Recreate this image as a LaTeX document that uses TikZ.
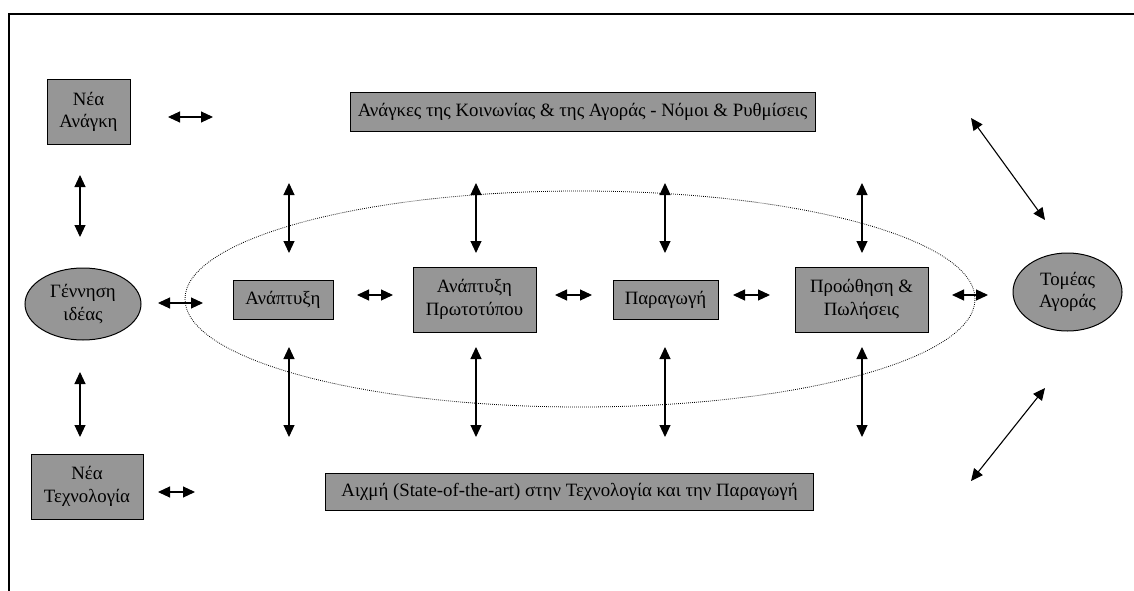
\documentclass[tikz,border=0pt]{standalone}
\usepackage{fontspec}
\setmainfont{Liberation Serif}
\usetikzlibrary{arrows.meta,shapes.geometric}
\definecolor{boxgray}{RGB}{150,150,150}
\begin{document}
\begin{tikzpicture}[x=1pt,y=-1pt,
  box/.style={draw=black, fill=boxgray, line width=1pt, inner sep=0pt,
    font=\fontsize{18.8}{22.5}\selectfont, align=center},
  oval/.style={ellipse, draw=black, fill=boxgray, line width=1pt, inner sep=0pt,
    font=\fontsize{18.8}{22.5}\selectfont, align=center},
  dar/.style={{Triangle[length=12pt,width=11pt]}-{Triangle[length=12pt,width=11pt]}, line width=1.1pt},
  area/.style={ellipse, draw=black, dash pattern=on 0.8pt off 1.2pt, line width=0.8pt, inner sep=0pt}
]
\useasboundingbox (0,0) rectangle (1134,591);
\draw[line width=2pt] (9,591) -- (9,14) -- (1134,14);

\node[area, minimum width=790pt, minimum height=216pt] (zone) at (580,299) {};

\node[box, minimum width=83pt, minimum height=64pt] (need) at (88.5,112) {Νέα\\Ανάγκη};
\node[box, minimum width=465pt, minimum height=39pt] (soc) at (582.5,112) {Ανάγκες της Κοινωνίας \& της Αγοράς - Νόμοι \& Ρυθμίσεις};
\node[oval, minimum width=116pt, minimum height=72pt] (idea) at (83,304) {Γέννηση\\ιδέας};
\node[box, minimum width=100pt, minimum height=39pt] (dev) at (283,299.5) {Ανάπτυξη};
\node[box, minimum width=123pt, minimum height=65pt] (proto) at (474.5,299.5) {Ανάπτυξη\\Πρωτοτύπου};
\node[box, minimum width=105pt, minimum height=39pt] (prod) at (665.5,299.5) {Παραγωγή};
\node[box, minimum width=133pt, minimum height=65pt] (sales) at (861.5,299.5) {Προώθηση \&\\Πωλήσεις};
\node[oval, minimum width=109pt, minimum height=78pt] (market) at (1067.5,292) {Τομέας\\Αγοράς};
\node[box, minimum width=112pt, minimum height=65pt] (tech) at (87,486.5) {Νέα\\Τεχνολογία};
\node[box, minimum width=488pt, minimum height=37pt] (art) at (569.5,492) {Αιχμή (State-of-the-art) στην Τεχνολογία και την Παραγωγή};

% arrow end points
\coordinate (h1a) at (168,117); \coordinate (h1b) at (213,117);
\coordinate (v1a) at (80,175);  \coordinate (v1b) at (80,237);
\coordinate (v2a) at (80,372);  \coordinate (v2b) at (80,437);
\coordinate (h2a) at (158,303); \coordinate (h2b) at (203,303);
\coordinate (h3a) at (357,295); \coordinate (h3b) at (393,295);
\coordinate (h4a) at (555,295); \coordinate (h4b) at (592,295);
\coordinate (h5a) at (733,295); \coordinate (h5b) at (770,295);
\coordinate (h6a) at (952,295); \coordinate (h6b) at (988,295);
\coordinate (h7a) at (158,492); \coordinate (h7b) at (195,492);
\coordinate (d1a) at (971,118); \coordinate (d1b) at (1045,220);
\coordinate (d2a) at (1045,388); \coordinate (d2b) at (971,481);

\draw[dar] (h1a) -- (h1b);
\draw[dar] (v1a) -- (v1b);
\draw[dar] (v2a) -- (v2b);
\draw[dar] (h2a) -- (h2b);
\draw[dar] (h3a) -- (h3b);
\draw[dar] (h4a) -- (h4b);
\draw[dar] (h5a) -- (h5b);
\draw[dar] (h6a) -- (h6b);
\draw[dar] (h7a) -- (h7b);
\draw[dar] (d1a) -- (d1b);
\draw[dar] (d2a) -- (d2b);

\foreach \n/\x in {1/289,2/476,3/665,4/862}{
  \coordinate (ut\n) at (\x,183); \coordinate (ub\n) at (\x,253);
  \coordinate (lt\n) at (\x,347); \coordinate (lb\n) at (\x,437);
  \draw[dar] (ut\n) -- (ub\n);
  \draw[dar] (lt\n) -- (lb\n);
}
\end{tikzpicture}
\end{document}
